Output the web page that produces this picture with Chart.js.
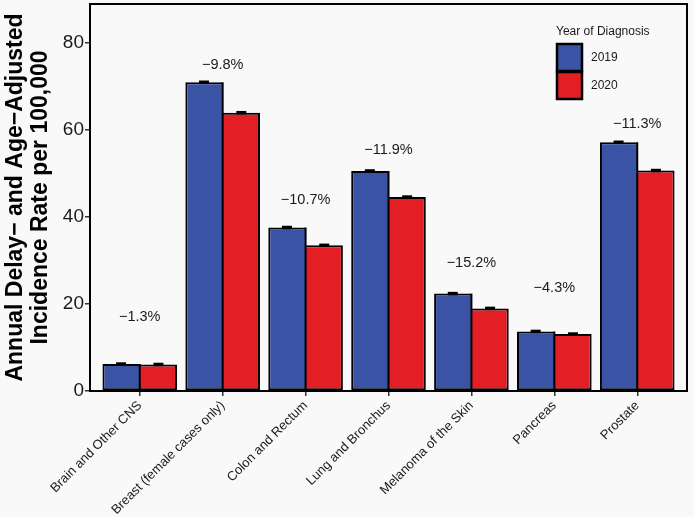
<!DOCTYPE html>
<html>
<head>
<meta charset="utf-8">
<script src="https://cdn.jsdelivr.net/npm/chart.js@4"></script>
<style>
  html, body { margin: 0; padding: 0; background: #f9f9f9; }
  #wrap { width: 694px; height: 517px; }
</style>
</head>
<body>
<div id="wrap"><canvas id="myChart"></canvas></div>
<script>
const categories = ['Brain and Other CNS', 'Breast (female cases only)', 'Colon and Rectum',
    'Lung and Bronchus', 'Melanoma of the Skin', 'Pancreas', 'Prostate'];
const rate2019 = [6.2, 71.0, 37.6, 50.6, 22.4, 13.7, 57.2];
const rate2020 = [6.1, 64.0, 33.5, 44.6, 19.0, 13.1, 50.7];
const err2019 = [0.1, 0.3, 0.2, 0.2, 0.15, 0.1, 0.25];
const err2020 = [0.1, 0.3, 0.2, 0.2, 0.15, 0.1, 0.25];
const pctChange = ['−1.3%', '−9.8%', '−10.7%', '−11.9%', '−15.2%', '−4.3%', '−11.3%'];
const pctLabelAt = [17, 75, 44, 55.5, 29.5, 23.8, 61.3];
const yTicks = [0, 20, 40, 60, 80];

const ink = '#1a1a1a';
const fontFamily = '"Liberation Sans", Arial, Helvetica, sans-serif';

const bgPlugin = {
    id: 'bg',
    beforeDraw(chart) {
        const c = chart.ctx;
        c.save();
        c.fillStyle = '#f9f9f9';
        c.fillRect(0, 0, chart.width, chart.height);
        c.restore();
    }
};

// shared edge between bars, error bars, % change labels, frame and legend
const extrasPlugin = {
    id: 'extras',
    afterDatasetsDraw(chart) {
        const c = chart.ctx;
        const y = chart.scales.y;
        const x = chart.scales.x;
        c.save();

        const m0 = chart.getDatasetMeta(0);
        const m1 = chart.getDatasetMeta(1);
        c.strokeStyle = '#000';
        c.lineWidth = 2;
        m0.data.forEach((b0, i) => {
            const b1 = m1.data[i];
            const edge = (b0.x + b0.width / 2 + b1.x - b1.width / 2) / 2;
            const top = Math.min(b0.y, b1.y);
            c.beginPath();
            c.moveTo(edge, top);
            c.lineTo(edge, b0.base);
            c.stroke();
        });

        c.fillStyle = '#000';
        chart.data.datasets.forEach((ds, di) => {
            const meta = chart.getDatasetMeta(di);
            meta.data.forEach((bar, i) => {
                const v = ds.data[i].y;
                const e = ds.err[i];
                const top = y.getPixelForValue(v + e);
                const bot = y.getPixelForValue(v - e);
                const h = Math.max(bot - top, 3.5);
                const mid = (top + bot) / 2;
                c.fillRect(bar.x - 5, mid - h / 2, 10, h);
            });
        });

        c.fillStyle = ink;
        c.font = '14.5px ' + fontFamily;
        c.textAlign = 'center';
        c.textBaseline = 'middle';
        pctChange.forEach((t, i) => {
            c.fillText(t, x.getPixelForValue(i), y.getPixelForValue(pctLabelAt[i]));
        });
        c.restore();
    },
    afterDraw(chart) {
        const c = chart.ctx;
        const a = chart.chartArea;
        c.save();
        c.strokeStyle = '#000';
        c.lineWidth = 2;
        c.strokeRect(a.left, a.top, a.right - a.left, a.bottom - a.top);

        // legend
        const lx = a.right - 131;
        const ly = a.top + 20;
        c.fillStyle = ink;
        c.font = '12px ' + fontFamily;
        c.textAlign = 'left';
        c.textBaseline = 'middle';
        c.fillText('Year of Diagnosis', lx, ly + 8);
        chart.data.datasets.forEach((ds, di) => {
            const by = ly + 20 + di * 28;
            c.fillStyle = ds.backgroundColor;
            c.fillRect(lx + 1, by, 25, 27);
            c.strokeStyle = '#000';
            c.lineWidth = 2.5;
            c.strokeRect(lx + 1, by, 25, 27);
            c.fillStyle = ink;
            c.fillText(ds.label, lx + 35, by + 14);
        });
        c.restore();
    }
};

const ctx = document.getElementById('myChart');

const myChart = new Chart(ctx, {
    type: 'bar',
    data: {
        datasets: [
            {
                label: '2019',
                data: rate2019.map((v, i) => ({ x: i, y: v })),
                err: err2019,
                backgroundColor: '#3a53a4',
                borderColor: '#000',
                borderWidth: { top: 2, left: 2, bottom: 2, right: 0 },
                borderSkipped: false,
                barPercentage: 1,
                categoryPercentage: 0.9
            },
            {
                label: '2020',
                data: rate2020.map((v, i) => ({ x: i, y: v })),
                err: err2020,
                backgroundColor: '#e31e24',
                borderColor: '#000',
                borderWidth: { top: 2, left: 0, bottom: 2, right: 2 },
                borderSkipped: false,
                barPercentage: 1,
                categoryPercentage: 0.9
            }
        ]
    },
    options: {
        responsive: true,
        maintainAspectRatio: false,
        animation: false,
        layout: {
            padding: { top: 4, right: 7, left: 0, bottom: 0 }
        },
        scales: {
            x: {
                type: 'linear',
                offset: false,
                min: -0.6,
                max: 6.6,
                afterBuildTicks: s => { s.ticks = categories.map((c, i) => ({ value: i })); },
                afterFit: s => {
                    s.height = 126;
                    s.paddingLeft = 0;
                    s.paddingRight = 0;
                },
                grid: {
                    offset: false,
                    drawOnChartArea: false,
                    drawTicks: true,
                    tickLength: 5,
                    lineWidth: 1.5,
                    color: '#333'
                },
                border: { display: false },
                ticks: {
                    autoSkip: false,
                    minRotation: 45,
                    maxRotation: 45,
                    padding: 2,
                    color: ink,
                    font: { family: fontFamily, size: 13 },
                    callback: v => categories[v]
                }
            },
            y: {
                min: 0,
                max: 89,
                afterBuildTicks: s => { s.ticks = yTicks.map(v => ({ value: v })); },
                afterFit: s => {
                    s.width = 90;
                    s.paddingTop = 0;
                    s.paddingBottom = 0;
                },
                grid: {
                    drawOnChartArea: false,
                    drawTicks: true,
                    tickLength: 5,
                    lineWidth: 1.5,
                    color: '#333'
                },
                border: { display: false },
                ticks: {
                    padding: 1,
                    color: ink,
                    font: { family: fontFamily, size: 19 }
                },
                title: {
                    display: true,
                    text: ['Annual Delay− and Age−Adjusted', 'Incidence Rate per 100,000'],
                    color: '#000',
                    padding: { top: 4, bottom: 0 },
                    font: { family: fontFamily, size: 23, weight: 'bold', lineHeight: 1.05 }
                }
            }
        },
        plugins: {
            legend: { display: false },
            tooltip: { enabled: false }
        }
    },
    plugins: [bgPlugin, extrasPlugin]
});
</script>
</body>
</html>
